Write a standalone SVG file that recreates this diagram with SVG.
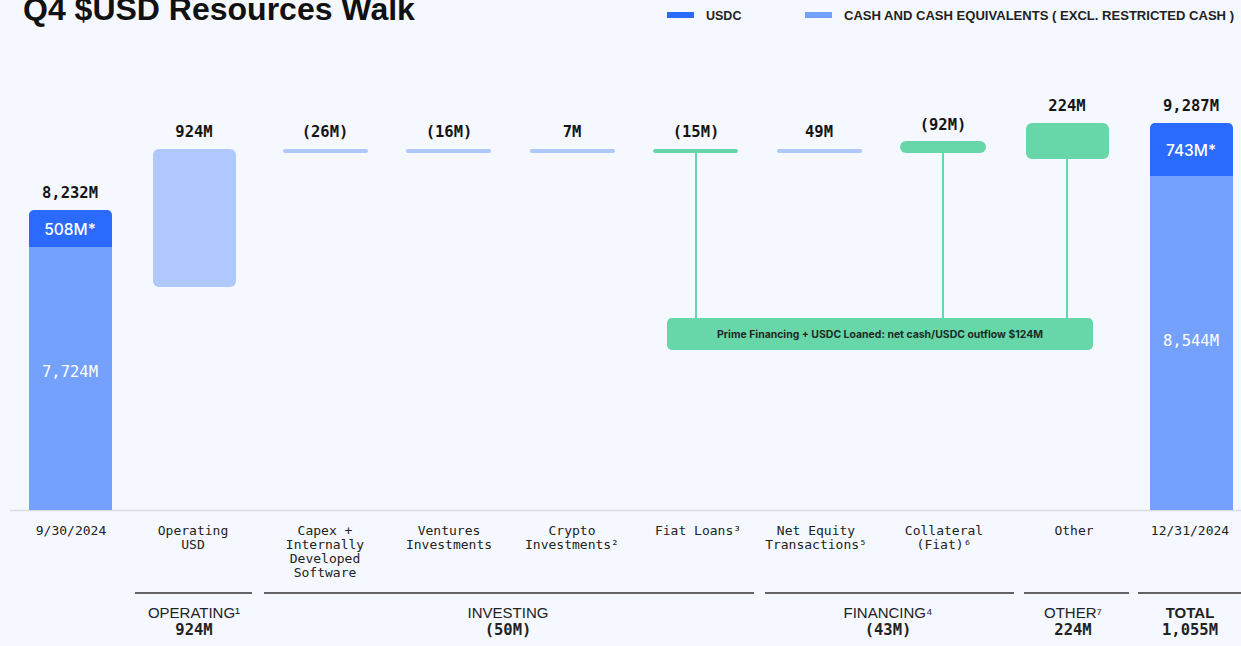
<svg xmlns="http://www.w3.org/2000/svg" width="1241" height="646" viewBox="0 0 1241 646">
<style>
.bg{fill:#F5F8FE}
.usdc{fill:#2A6BFE}
.cash{fill:#73A1FB}
.light{fill:#AFC8FD}
.green{fill:#67D7A9}
.thin{stroke:#AFC8FD;stroke-width:4;stroke-linecap:round}
.thing{stroke:#67D7A9;stroke-width:4;stroke-linecap:round}
.conn{stroke:#67D7A9;stroke-width:2;fill:none}
.val{font-family:"DejaVu Sans Mono","Liberation Mono",monospace;font-size:15.5px;font-weight:bold;fill:#151515;text-anchor:middle}
.wval{font-family:"DejaVu Sans Mono","Liberation Mono",monospace;font-size:15.5px;fill:#fff;text-anchor:middle}
.wsans{font-family:Inter,"Liberation Sans",sans-serif;font-size:15.5px;font-weight:500;fill:#fff;text-anchor:middle}
.cat{font-family:"DejaVu Sans Mono","Liberation Mono",monospace;font-size:13px;fill:#222;text-anchor:middle}
.grp{font-family:"Liberation Sans",Arial,sans-serif;font-size:15px;fill:#222;text-anchor:middle}
.gval{font-family:"DejaVu Sans Mono","Liberation Mono",monospace;font-size:15.5px;font-weight:bold;fill:#222;text-anchor:middle}
.gline{stroke:#333;stroke-width:1.5}
.leg{font-family:"Liberation Sans",Arial,sans-serif;font-size:12.5px;font-weight:bold;fill:#222}
</style>
<rect class="bg" x="0" y="0" width="1241" height="646"/>
<g id="title"><text x="23" y="20" font-family="'Liberation Sans',Arial,sans-serif" font-size="32" font-weight="bold" fill="#111">Q4 $USD Resources Walk</text></g>
<g id="legend">
<rect class="usdc" x="667" y="12" width="27" height="6"/>
<text class="leg" x="706" y="20">USDC</text>
<rect class="cash" x="805" y="12" width="27" height="6"/>
<text class="leg" x="844" y="20" textLength="390" lengthAdjust="spacingAndGlyphs">CASH AND CASH EQUIVALENTS ( EXCL. RESTRICTED CASH )</text>
</g>
<line x1="10" y1="510.5" x2="1241" y2="510.5" stroke="#D9DDE7" stroke-width="1.5"/>
<g id="connectors">
<line class="conn" x1="696" y1="152" x2="696" y2="319"/>
<line class="conn" x1="943" y1="152" x2="943" y2="319"/>
<line class="conn" x1="1067" y1="158" x2="1067" y2="319"/>
</g>
<g id="start">
<path class="usdc" d="M29,247 V215 a5,5 0 0 1 5,-5 H107 a5,5 0 0 1 5,5 V247 Z"/>
<rect class="cash" x="29" y="247" width="83" height="263"/>
<text class="val" x="70" y="198">8,232M</text>
<text class="wsans" x="70" y="235">508M*</text>
<text class="wval" x="70" y="377">7,724M</text>
</g>
<g id="operating">
<rect class="light" x="153" y="149" width="83" height="138" rx="6"/>
<text class="val" x="194" y="137">924M</text>
</g>
<g id="capex">
<line class="thin" x1="285" y1="151" x2="366" y2="151"/>
<text class="val" x="325" y="137">(26M)</text>
</g>
<g id="ventures">
<line class="thin" x1="408" y1="151" x2="489" y2="151"/>
<text class="val" x="449" y="137">(16M)</text>
</g>
<g id="crypto">
<line class="thin" x1="532" y1="151" x2="613" y2="151"/>
<text class="val" x="572" y="137">7M</text>
</g>
<g id="fiatloans">
<line class="thing" x1="655" y1="151" x2="736" y2="151"/>
<text class="val" x="696" y="137">(15M)</text>
</g>
<g id="netequity">
<line class="thin" x1="779" y1="151" x2="860" y2="151"/>
<text class="val" x="819" y="137">49M</text>
</g>
<g id="collateral">
<rect class="green" x="900" y="141" width="86" height="12" rx="6"/>
<text class="val" x="943" y="130">(92M)</text>
</g>
<g id="other">
<rect class="green" x="1026" y="123" width="83" height="36" rx="6"/>
<text class="val" x="1067" y="111">224M</text>
</g>
<g id="end">
<path class="usdc" d="M1150,176 V128 a5,5 0 0 1 5,-5 H1228 a5,5 0 0 1 5,5 V176 Z"/>
<rect class="cash" x="1150" y="176" width="83" height="334"/>
<text class="val" x="1191" y="111">9,287M</text>
<text class="wsans" x="1191" y="156">743M*</text>
<text class="wval" x="1191" y="346">8,544M</text>
</g>
<g id="prime">
<rect class="green" x="667" y="318" width="426" height="32" rx="5"/>
<text x="880" y="338" font-family="Inter,'Liberation Sans',sans-serif" font-size="10.5" font-weight="bold" fill="#1d2b24" text-anchor="middle" textLength="326" lengthAdjust="spacingAndGlyphs">Prime Financing + USDC Loaned: net cash/USDC outflow $124M</text>
</g>
<g id="categories">
<text class="cat" x="71" y="535">9/30/2024</text>
<text class="cat" x="193" y="535">Operating</text>
<text class="cat" x="193" y="549">USD</text>
<text class="cat" x="325" y="535">Capex +</text>
<text class="cat" x="325" y="549">Internally</text>
<text class="cat" x="325" y="563">Developed</text>
<text class="cat" x="325" y="577">Software</text>
<text class="cat" x="449" y="535">Ventures</text>
<text class="cat" x="449" y="549">Investments</text>
<text class="cat" x="572" y="535">Crypto</text>
<text class="cat" x="572" y="549">Investments²</text>
<text class="cat" x="698" y="535">Fiat Loans³</text>
<text class="cat" x="816" y="535">Net Equity</text>
<text class="cat" x="816" y="549">Transactions⁵</text>
<text class="cat" x="944" y="535">Collateral</text>
<text class="cat" x="944" y="549">(Fiat)⁶</text>
<text class="cat" x="1074" y="535">Other</text>
<text class="cat" x="1190" y="535">12/31/2024</text>
</g>
<g id="groups">
<line class="gline" x1="135" y1="593" x2="252" y2="593"/>
<line class="gline" x1="264" y1="593" x2="754" y2="593"/>
<line class="gline" x1="765" y1="593" x2="1014" y2="593"/>
<line class="gline" x1="1024" y1="593" x2="1129" y2="593"/>
<line class="gline" x1="1138" y1="593" x2="1241" y2="593"/>
<text class="grp" x="194" y="618">OPERATING¹</text>
<text class="gval" x="194" y="635">924M</text>
<text class="grp" x="508" y="618">INVESTING</text>
<text class="gval" x="508" y="635">(50M)</text>
<text class="grp" x="888" y="618">FINANCING⁴</text>
<text class="gval" x="888" y="635">(43M)</text>
<text class="grp" x="1073" y="618">OTHER⁷</text>
<text class="gval" x="1073" y="635">224M</text>
<text class="grp" x="1190" y="618" font-weight="bold">TOTAL</text>
<text class="gval" x="1190" y="635">1,055M</text>
</g>
</svg>
